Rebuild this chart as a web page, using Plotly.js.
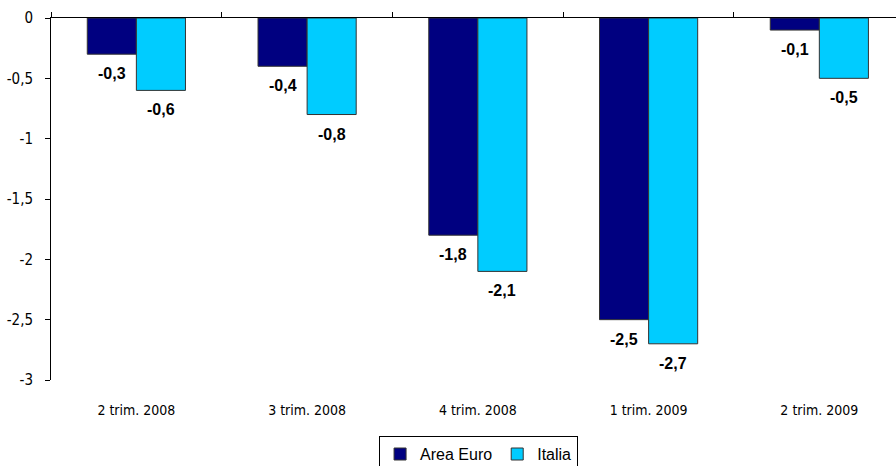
<!DOCTYPE html>
<html>
<head>
<meta charset="utf-8">
<script src="https://cdn.plot.ly/plotly-3.0.1.min.js"></script>
<style>html,body{margin:0;padding:0;background:#fff;}#chart{width:896px;height:466px;}</style>
</head>
<body>
<div id="chart"></div>
<script>
var categories = ['2 trim. 2008', '3 trim. 2008', '4 trim. 2008', '1 trim. 2009', '2 trim. 2009'];
var areaEuro = [-0.3, -0.4, -1.8, -2.5, -0.1];
var italia = [-0.6, -0.8, -2.1, -2.7, -0.5];
var seriesNames = ['Area Euro', 'Italia'];
var yTickVals = [0, -0.5, -1, -1.5, -2, -2.5, -3];
var yTickText = ['0', '-0,5', '-1', '-1,5', '-2', '-2,5', '-3'];

function fmt(v) { return String(v).replace('.', ','); }

var narrow = '"Liberation Sans Narrow", "Arial Narrow", "DejaVu Sans Condensed", sans-serif';
var sans = '"Liberation Sans", Arial, sans-serif';

var traces = [
  {type: 'bar', name: seriesNames[0], x: categories, y: areaEuro, xaxis: 'x', yaxis: 'y',
   marker: {color: '#000080', line: {color: '#333333', width: 1}}, hoverinfo: 'x+y'},
  {type: 'bar', name: seriesNames[1], x: categories, y: italia, xaxis: 'x', yaxis: 'y',
   marker: {color: '#00CCFF', line: {color: '#333333', width: 1}}, hoverinfo: 'x+y'},
  {type: 'scatter', mode: 'none', x: categories, y: categories.map(function(){return null;}),
   xaxis: 'x2', yaxis: 'y', showlegend: false, hoverinfo: 'skip'}
];

var barGap = 0.425;
var plotW = 845;
var catPx = plotW / (categories.length - 0.05);
var halfBar = catPx * (1 - barGap) / 4;

var annotations = [];
[areaEuro, italia].forEach(function(series, i) {
  series.forEach(function(v, j) {
    annotations.push({
      x: categories[j], y: v, xref: 'x', yref: 'y',
      xshift: (i === 0 ? -1 : 1) * halfBar, yshift: -9,
      yanchor: 'top', xanchor: 'center', showarrow: false,
      text: '<b>' + fmt(v) + '</b>',
      font: {family: sans, size: 16, color: '#000'}
    });
  });
});

var layout = {
  width: 896, height: 466,
  margin: {l: 51, r: 0, t: 18, b: 86, pad: 0, autoexpand: false},
  paper_bgcolor: '#fff', plot_bgcolor: '#fff',
  barmode: 'group', bargap: barGap, bargroupgap: 0,
  showlegend: true,
  xaxis: {
    type: 'category', range: [-0.5, 4.449], side: 'bottom', anchor: 'y',
    showline: false, showgrid: false, zeroline: false, ticks: '',
    ticklabelstandoff: 20, automargin: false,
    tickfont: {family: narrow, size: 14, color: '#000'}
  },
  xaxis2: {
    type: 'category', overlaying: 'x', matches: 'x', side: 'top', anchor: 'y',
    showline: true, linecolor: '#000', linewidth: 1, showgrid: false, zeroline: false,
    ticks: 'outside', tickson: 'boundaries', ticklen: 5, tickcolor: '#000', tickwidth: 1,
    showticklabels: false, automargin: false
  },
  yaxis: {
    range: [-3, 0], tickmode: 'array', tickvals: yTickVals, ticktext: yTickText,
    showline: true, linecolor: '#000', linewidth: 1, showgrid: false, zeroline: false,
    ticks: 'outside', ticklen: 5, tickcolor: '#000', tickwidth: 1,
    ticklabelstandoff: 9, automargin: false,
    tickfont: {family: narrow, size: 15, color: '#000'}
  },
  legend: {
    orientation: 'h', x: 0.506, xanchor: 'center', y: -0.155, yanchor: 'top',
    bordercolor: '#000', borderwidth: 1, bgcolor: '#fff',
    itemwidth: 30, tracegroupgap: 0,
    font: {family: sans, size: 16, color: '#000'}
  },
  annotations: annotations
};

Plotly.newPlot('chart', traces, layout, {displayModeBar: false, staticPlot: true});
</script>
</body>
</html>
